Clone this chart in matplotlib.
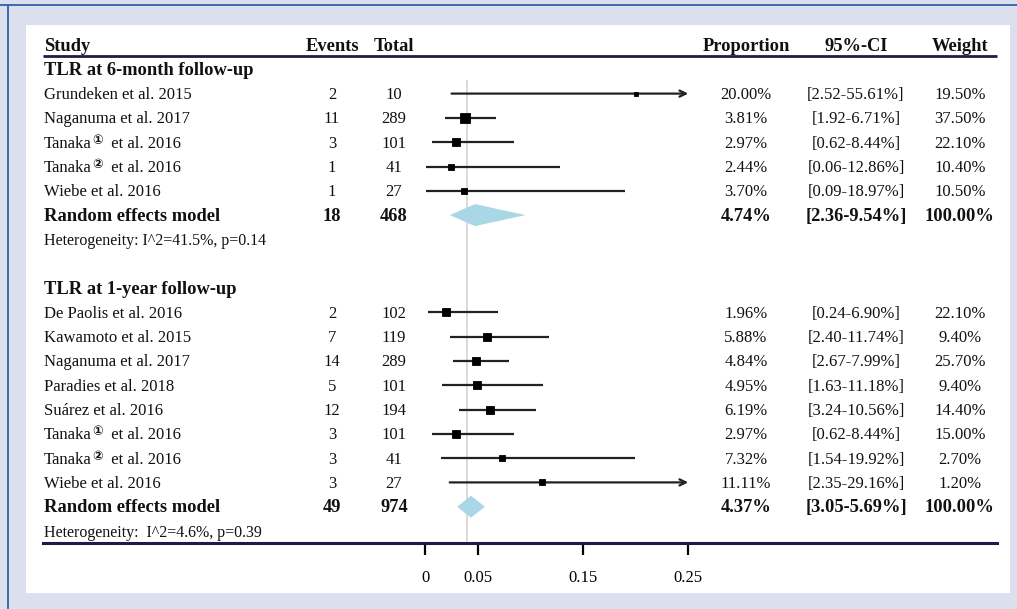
import numpy as np
import matplotlib
matplotlib.use("Agg")
import matplotlib.pyplot as plt
from matplotlib.patches import Rectangle
from matplotlib.lines import Line2D

# ------------------------------------------------------------------ data
section_titles = ["TLR at 6-month follow-up", "TLR at 1-year follow-up"]

studies_6m = ["Grundeken et al. 2015", "Naganuma et al. 2017", "Tanaka① et al. 2016",
              "Tanaka② et al. 2016", "Wiebe et al. 2016"]
events_6m = [2, 11, 3, 1, 1]
totals_6m = [10, 289, 101, 41, 27]
prop_6m = [20.00, 3.81, 2.97, 2.44, 3.70]          # percent
ci_lo_6m = [2.52, 1.92, 0.62, 0.06, 0.09]
ci_hi_6m = [55.61, 6.71, 8.44, 12.86, 18.97]
weight_6m = [19.50, 37.50, 22.10, 10.40, 10.50]
pooled_6m = [18, 468, 4.74, 2.36, 9.54]             # events, total, prop, lo, hi
het_6m = "Heterogeneity: I^2=41.5%, p=0.14"

studies_1y = ["De Paolis et al. 2016", "Kawamoto et al. 2015", "Naganuma et al. 2017",
              "Paradies et al. 2018", "Suárez et al. 2016", "Tanaka① et al. 2016",
              "Tanaka② et al. 2016", "Wiebe et al. 2016"]
events_1y = [2, 7, 14, 5, 12, 3, 3, 3]
totals_1y = [102, 119, 289, 101, 194, 101, 41, 27]
prop_1y = [1.96, 5.88, 4.84, 4.95, 6.19, 2.97, 7.32, 11.11]
ci_lo_1y = [0.24, 2.40, 2.67, 1.63, 3.24, 0.62, 1.54, 2.35]
ci_hi_1y = [6.90, 11.74, 7.99, 11.18, 10.56, 8.44, 19.92, 29.16]
weight_1y = [22.10, 9.40, 25.70, 9.40, 14.40, 15.00, 2.70, 1.20]
pooled_1y = [49, 974, 4.37, 3.05, 5.69]
het_1y = "Heterogeneity:  I^2=4.6%, p=0.39"

x_ticks = [0, 0.05, 0.15, 0.25]
x_tick_labels = ["0", "0.05", "0.15", "0.25"]
ref_value = 0.04

col_headers = ["Study", "Events", "Total", "Proportion", "95%-CI", "Weight"]

# ------------------------------------------------------------------ style
plt.rcParams['font.family'] = ['Liberation Serif', 'DejaVu Sans', 'Noto Sans CJK JP']
W, H = 1017, 609
BG = '#dce0ee'
NAVY = '#1c1c4a'
BORDER = '#2f62aa'
LINE = '#222222'
DIAMOND = '#a9d7e6'
FS = 12
FSB = 13.3

fig = plt.figure(figsize=(W / 100, H / 100), dpi=100, facecolor=BG)


def fx(px):
    return px / W


def fy(py):
    return 1 - py / H


# white panel and frame lines
fig.patches.append(Rectangle((fx(26), fy(593)), fx(1010) - fx(26), (593 - 25) / H,
                             transform=fig.transFigure, facecolor='white',
                             edgecolor='none', zorder=-5))
fig.lines.append(Line2D([0, 1], [fy(4.5), fy(4.5)], transform=fig.transFigure,
                        color=BORDER, lw=1.3, zorder=-4))
fig.lines.append(Line2D([fx(7.5), fx(7.5)], [0, fy(4.5)], transform=fig.transFigure,
                        color=BORDER, lw=1.3, zorder=-4))

# main axes: full width, bottom edge at the table's closing line
axis_px = 543
zero_px, px_per_unit = 425, 1053
row0_px, row_px = 45, 24.3
ax = fig.add_axes([0, fy(axis_px), 1, axis_px / H])
ax.set_facecolor('none')
ax.set_xlim(-zero_px / px_per_unit, (W - zero_px) / px_per_unit)
r_top = -row0_px / row_px
r_bot = (axis_px - row0_px) / row_px
ax.set_ylim(r_bot, r_top)
for s in ['top', 'left', 'right']:
    ax.spines[s].set_visible(False)
left_data = (43 - zero_px) / px_per_unit
right_data = (997 - zero_px) / px_per_unit
ax.spines['bottom'].set_bounds(left_data, right_data)
ax.spines['bottom'].set_color(NAVY)
ax.spines['bottom'].set_linewidth(2.2)
ax.set_yticks([])
ax.set_xticks(x_ticks)
ax.set_xticklabels(x_tick_labels)
ax.tick_params(axis='x', direction='out', length=8.8, width=1.6, color='black',
               pad=10.5, labelsize=FS)

# header line
ax.plot([left_data, right_data], [(56 - row0_px) / row_px] * 2, color=NAVY, lw=2.0,
        solid_capstyle='butt')

trans = ax.get_yaxis_transform()
x_study = fx(44)
x_events = fx(332)
x_total = fx(394)
x_prop = fx(746)
x_ci = fx(856)
x_weight = fx(960)
OFF = 0.23  # baseline offset in rows


def txt(x, r, s, ha='center', bold=False, size=None):
    return ax.text(x, r + OFF, s, transform=trans, ha=ha, va='baseline',
                   fontsize=size or (FSB if bold else FS),
                   fontweight='bold' if bold else 'normal', color='#111111')


def study_label(r, name):
    for mark in "①②":
        if mark in name:
            head, tail = name.split(mark)
            t = txt(x_study, r, head, ha='left')
            sup = ax.annotate(mark, xy=(1, r + OFF), xycoords=(t, 'data'),
                              xytext=(0.3, 3.0), textcoords='offset points',
                              ha='left', va='baseline', fontsize=9,
                              family=['DejaVu Sans', 'Noto Sans CJK JP'],
                              fontweight='bold', color='#111111')
            ax.annotate(' ' + tail, xy=(1, r + OFF), xycoords=(sup, 'data'),
                        ha='left', va='baseline', fontsize=FS, color='#111111')
            return
    txt(x_study, r, name, ha='left')


# column headers
hdr_x = [x_study, x_events, x_total, x_prop, x_ci, x_weight]
for i, (hx, h) in enumerate(zip(hdr_x, col_headers)):
    txt(hx, 0, h, ha='left' if i == 0 else 'center', bold=True)

# reference line
ax.vlines(ref_value, (80 - row0_px) / row_px, r_bot, color='#d4d4d4', lw=1.2, zorder=1)

xmax = x_ticks[-1]
all_totals = np.array(totals_6m + totals_1y, dtype=float)
all_props = np.array(prop_6m + prop_1y) / 100
w_all = all_totals / (all_props * (1 - all_props))
w_max = w_all.max()

sections = [
    (section_titles[0], studies_6m, events_6m, totals_6m, prop_6m, ci_lo_6m, ci_hi_6m,
     weight_6m, pooled_6m, het_6m),
    (section_titles[1], studies_1y, events_1y, totals_1y, prop_1y, ci_lo_1y, ci_hi_1y,
     weight_1y, pooled_1y, het_1y),
]

row = 1
for (title, names, ev, tot, pr, lo, hi, wt, pooled, het) in sections:
    txt(x_study, row, title, ha='left', bold=True)
    row += 1
    for n, e, t, p, l, h, w in zip(names, ev, tot, pr, lo, hi, wt):
        study_label(row, n)
        txt(x_events, row, f"{e}")
        txt(x_total, row, f"{t}")
        txt(x_prop, row, f"{p:.2f}%")
        txt(x_ci, row, f"[{l:.2f}-{h:.2f}%]")
        txt(x_weight, row, f"{w:.2f}%")
        pv, lv, hv = p / 100, l / 100, h / 100
        if hv > xmax:
            ax.annotate('', xy=(xmax, row), xytext=(lv, row),
                        arrowprops=dict(arrowstyle='->,head_length=0.45,head_width=0.22',
                                        lw=1.6, color=LINE, shrinkA=0, shrinkB=0))
        else:
            ax.plot([lv, hv], [row, row], color=LINE, lw=1.6, solid_capstyle='butt', zorder=2)
        wi = t / (pv * (1 - pv))
        side_px = 4.4 + 5.1 * np.sqrt(wi / w_max)
        ax.plot([pv], [row], marker='s', markersize=side_px * 0.72, color='black',
                markeredgewidth=0.6, markeredgecolor='black', zorder=3, snap=False)
        row += 1
    pe, pt, pp, pl, ph = pooled
    txt(x_study, row, "Random effects model", ha='left', bold=True)
    txt(x_events, row, f"{pe}", bold=True)
    txt(x_total, row, f"{pt}", bold=True)
    txt(x_prop, row, f"{pp:.2f}%", bold=True)
    txt(x_ci, row, f"[{pl:.2f}-{ph:.2f}%]", bold=True)
    txt(x_weight, row, "100.00%", bold=True)
    hh = 11 / row_px
    ax.fill([pl / 100, pp / 100, ph / 100, pp / 100], [row, row - hh, row, row + hh],
            color=DIAMOND, lw=0, zorder=2)
    row += 1
    txt(x_study, row, het, ha='left', size=11.5)
    row += 2

fig.savefig("out.png", dpi=100, facecolor=BG)
